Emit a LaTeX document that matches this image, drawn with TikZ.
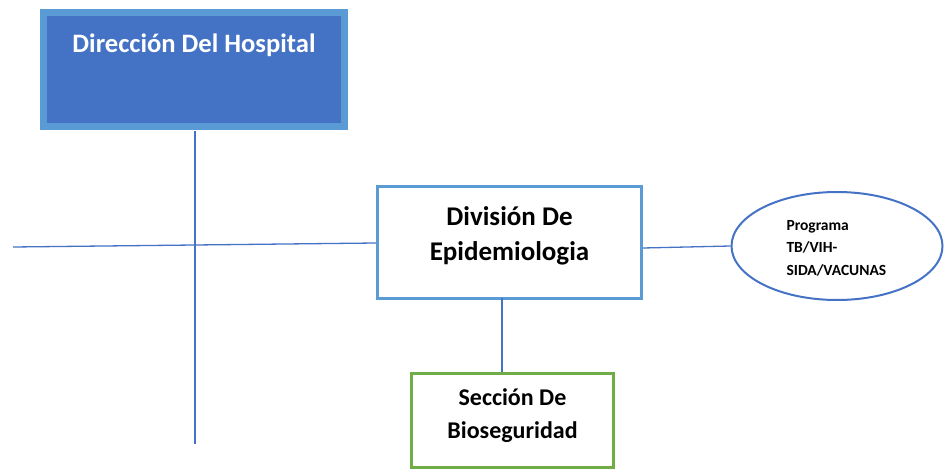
\documentclass[tikz,border=0pt]{standalone}
\usepackage{fontspec}
\setmainfont{Carlito}
\usetikzlibrary{shapes.geometric}
\definecolor{lblue}{HTML}{5B9BD5}
\definecolor{dblue}{HTML}{4472C4}
\definecolor{lgreen}{HTML}{70AD47}
\tikzset{
  conn/.style={draw=dblue, line width=1.3pt},
  lbl/.style={font=\bfseries, align=center, text=black},
}
\begin{document}
\begin{tikzpicture}[x=1pt,y=-1pt]
\useasboundingbox (0,0) rectangle (944,470);
% top box
\node[draw=lblue, fill=dblue, line width=7pt, minimum width=301pt, minimum height=114pt, inner sep=0pt] (dir) at (194,70) {};
\node[font=\bfseries\fontsize{26.6}{30}\selectfont, text=white] (dirt) at (194,45) {Dirección Del Hospital};
% division
\node[draw=lblue, line width=3pt, minimum width=264pt, minimum height=111pt, inner sep=0pt] (div) at (509.5,242.5) {};
\node[lbl, font=\bfseries\fontsize{27}{35}\selectfont] at (509.5,236) {División De\\Epidemiologia};
% seccion
\node[draw=lgreen, line width=3pt, minimum width=202pt, minimum height=94pt, inner sep=0pt] (sec) at (512.5,420) {};
\node[lbl, font=\bfseries\fontsize{24}{33}\selectfont] at (512.5,416) {Sección De\\Bioseguridad};
% ellipse
\node[draw=dblue, ellipse, line width=2pt, minimum width=211pt, minimum height=108pt, inner sep=0pt] (prog) at (837,246) {};
\node[font=\bfseries\fontsize{15.5}{22.5}\selectfont, align=left, anchor=west] at (783,248) {Programa\\TB/VIH-\\SIDA/VACUNAS};
% connectors
\coordinate (vb) at (195,444);
\coordinate (hl) at (13,247);
\coordinate (vt) at (195,131);
\draw[conn] (vt) -- (vb);
\draw[conn] (hl) -- (div.west |- 0,243);
\draw[conn] (div.east |- 0,248) -- (prog.west |- 0,246);
\draw[conn] (502,298) -- (sec.north -| 502,0);
\end{tikzpicture}
\end{document}
